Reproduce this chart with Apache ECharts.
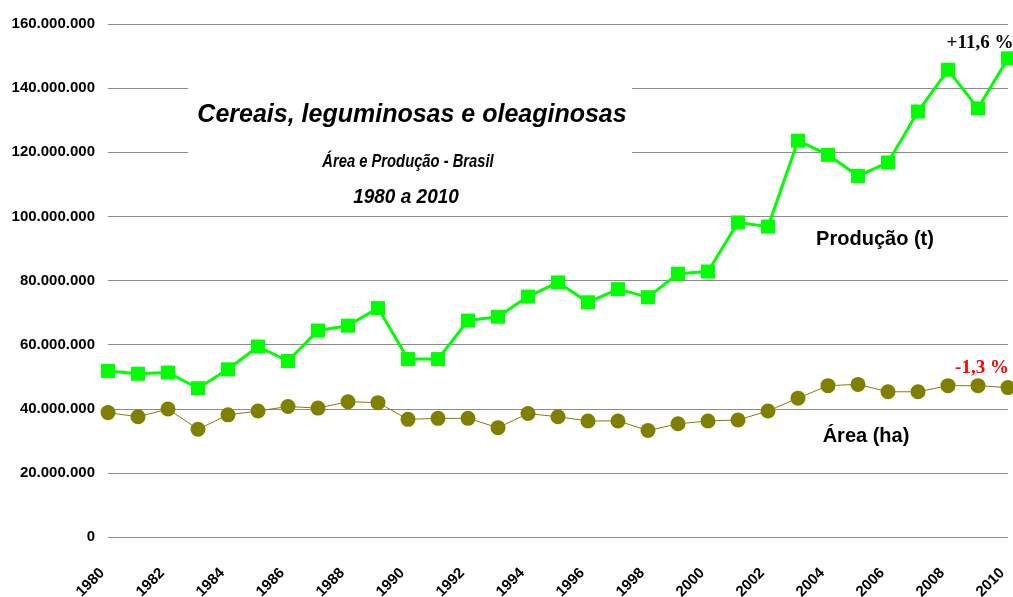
<!DOCTYPE html>
<html>
<head>
<meta charset="utf-8">
<script src="https://cdn.jsdelivr.net/npm/echarts@6/dist/echarts.min.js"></script>
<style>
  html, body { margin: 0; padding: 0; background: #fff; }
  #chart { width: 1013px; height: 597px; }
</style>
</head>
<body>
<div id="chart"></div>
<script>
var anos = ['1980', '1981', '1982', '1983', '1984', '1985', '1986', '1987', '1988', '1989',
            '1990', '1991', '1992', '1993', '1994', '1995', '1996', '1997', '1998', '1999',
            '2000', '2001', '2002', '2003', '2004', '2005', '2006', '2007', '2008', '2009', '2010'];

// Produção (t)
var producao = [51800000, 50900000, 51300000, 46400000, 52300000, 59400000, 54900000, 64400000,
                65900000, 71400000, 55500000, 55500000, 67500000, 68700000, 75000000, 79400000,
                73200000, 77300000, 74800000, 82100000, 82800000, 98100000, 96800000, 123600000,
                119200000, 112600000, 116800000, 132700000, 145700000, 133700000, 149300000];

// Área (ha)
var area = [38800000, 37500000, 39900000, 33600000, 38100000, 39300000, 40700000, 40200000,
            42200000, 41900000, 36700000, 37000000, 37000000, 34100000, 38500000, 37500000,
            36200000, 36200000, 33200000, 35300000, 36200000, 36500000, 39300000, 43300000,
            47200000, 47600000, 45300000, 45300000, 47200000, 47200000, 46600000];

var dom = document.getElementById('chart');
var myChart = echarts.init(dom);

function pontos(v) {
    return String(v).replace(/\B(?=(\d{3})+(?!\d))/g, '.');
}

var option = {
    backgroundColor: '#fff',
    animation: false,
    grid: { left: 108, right: 5, top: 24, bottom: 60, outerBoundsMode: 'none' },
    xAxis: {
        type: 'category',
        data: anos,
        boundaryGap: false,
        axisLine: { show: false },
        axisTick: { show: false },
        axisLabel: {
            interval: 1,
            rotate: 45,
            margin: 28,
            padding: [0, 8, 0, 0],
            color: '#000',
            fontFamily: 'Arial, Liberation Sans',
            fontWeight: 'bold',
            fontSize: 15
        }
    },
    yAxis: {
        type: 'value',
        min: 0,
        max: 160000000,
        interval: 20000000,
        axisLine: { show: false },
        axisTick: { show: false },
        splitLine: { lineStyle: { color: '#8c8c8c', width: 1 } },
        axisLabel: {
            margin: 13,
            color: '#000',
            fontFamily: 'Arial, Liberation Sans',
            fontWeight: 'bold',
            fontSize: 15,
            formatter: pontos
        }
    },
    graphic: [
        // caixa branca do título, cobre as linhas de grade
        { type: 'rect', z: 1, shape: { x: 188, y: 60, width: 444, height: 155 }, style: { fill: '#fff' } },
        { type: 'text', z: 3, x: 412, y: 115, style: { text: 'Cereais, leguminosas e oleaginosas', fill: '#000',
            font: 'italic bold 25px Arial, Liberation Sans', align: 'center', verticalAlign: 'middle' } },
        { type: 'text', z: 3, x: 408, y: 162, scaleX: 0.82,
            style: { text: 'Área e Produção - Brasil', fill: '#000',
            font: 'italic bold 18px Arial, Liberation Sans', align: 'center', verticalAlign: 'middle' } },
        { type: 'text', z: 3, x: 406, y: 197, scaleX: 0.95,
            style: { text: '1980 a 2010', fill: '#000',
            font: 'italic bold 20px Arial, Liberation Sans', align: 'center', verticalAlign: 'middle' } },
        { type: 'text', z: 3, x: 875, y: 239, style: { text: 'Produção (t)', fill: '#000',
            font: 'bold 20px Arial, Liberation Sans', align: 'center', verticalAlign: 'middle' } },
        { type: 'text', z: 3, x: 866, y: 436, style: { text: 'Área (ha)', fill: '#000',
            font: 'bold 20px Arial, Liberation Sans', align: 'center', verticalAlign: 'middle' } },
        { type: 'text', z: 3, x: 980, y: 43, style: { text: '+11,6 %', fill: '#000',
            font: 'bold 19px Liberation Serif, Times New Roman', align: 'center', verticalAlign: 'middle' } },
        { type: 'text', z: 3, x: 982, y: 368, style: { text: '-1,3 %', fill: '#ff0000',
            font: 'bold 19px Liberation Serif, Times New Roman', align: 'center', verticalAlign: 'middle' } }
    ],
    series: [
        {
            name: 'Área (ha)',
            type: 'line',
            data: area,
            symbol: 'circle',
            symbolSize: 15,
            itemStyle: { color: '#808000' },
            lineStyle: { color: '#808000', width: 1 }
        },
        {
            name: 'Produção (t)',
            type: 'line',
            data: producao,
            symbol: 'rect',
            symbolSize: 14,
            itemStyle: { color: '#00ff00' },
            lineStyle: { color: '#00ff00', width: 3 }
        }
    ]
};

myChart.setOption(option, true);
</script>
</body>
</html>
